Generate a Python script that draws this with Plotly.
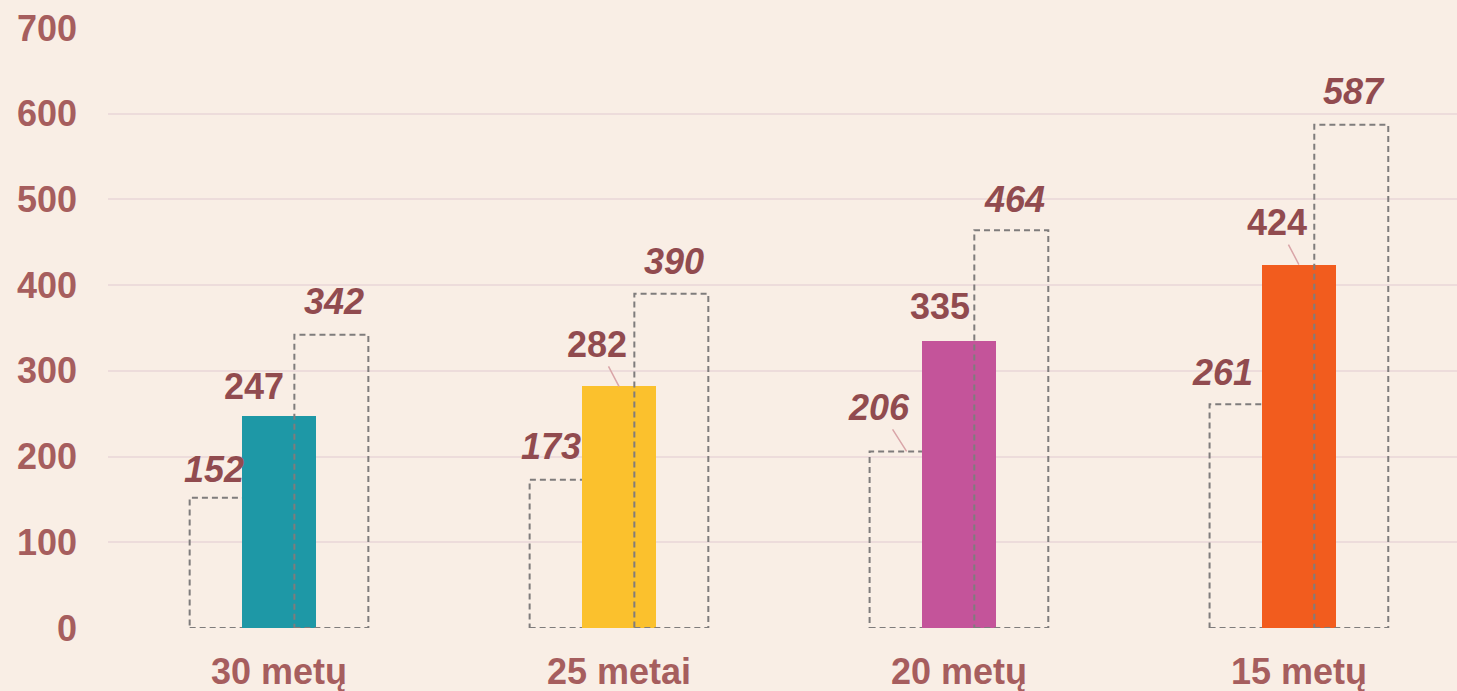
import plotly.graph_objects as go

categories = ["30 metų", "25 metai", "20 metų", "15 metų"]
low_values = [152, 173, 206, 261]
mid_values = [247, 282, 335, 424]
high_values = [342, 390, 464, 587]
y_ticks = [0, 100, 200, 300, 400, 500, 600, 700]

mid_colors = ["#1E98A6", "#FBC12D", "#C4549A", "#F25C1E"]
BG = "#F9EEE5"
TICK_COLOR = "#A65E5E"
LABEL_COLOR = "#914B4F"
GRID = "#EDDCDB"
DASH_COLOR = "#7F7C7C"
FONT = "Liberation Sans"

W = 0.2176      # bar width in category units
OFF = 0.154     # offset of dashed outlines from category center

# label pixel offsets (dx, dy) relative to bar top-center
low_off = [(-13, 28), (-16, 33), None, (-24, 32)]
mid_off = [(-25, 30), None, (-19, 34), None]
high_off = [(3, 33), (3, 32), (3, 31), (3, 33)]

fig = go.Figure()
xs = list(range(len(categories)))

fig.add_trace(go.Bar(
    x=xs, y=mid_values, width=W, marker=dict(color=mid_colors, line=dict(width=0)),
    showlegend=False, hoverinfo="skip"))

shapes = []
for i, (lo, hi) in enumerate(zip(low_values, high_values)):
    shapes.append(dict(type="rect", xref="x", yref="y", x0=i - OFF - W / 2, x1=i - OFF + W / 2,
                       y0=0, y1=lo, line=dict(color=DASH_COLOR, width=2, dash="6px,4px"),
                       fillcolor="rgba(0,0,0,0)", layer="between"))
    shapes.append(dict(type="rect", xref="x", yref="y", x0=i + OFF - W / 2, x1=i + OFF + W / 2,
                       y0=0, y1=hi, line=dict(color=DASH_COLOR, width=2, dash="6px,4px"),
                       fillcolor="rgba(0,0,0,0)", layer="above"))

annotations = []
lab_font = dict(family=FONT, size=36, color=LABEL_COLOR)
for i in xs:
    # low
    if low_off[i] is not None:
        dx, dy = low_off[i]
        annotations.append(dict(x=i - OFF, y=low_values[i], xref="x", yref="y",
                                text=f"<b><i>{low_values[i]}</i></b>", showarrow=False,
                                xshift=dx, yshift=dy, font=lab_font))
    else:
        annotations.append(dict(x=i - OFF, y=low_values[i], xref="x", yref="y",
                                text=f"<b><i>{low_values[i]}</i></b>", showarrow=True,
                                arrowhead=0, arrowwidth=1.5, arrowcolor="#D9A5A8",
                                ax=-28, ay=-44, standoff=0, font=lab_font))
    # mid
    if mid_off[i] is not None:
        dx, dy = mid_off[i]
        annotations.append(dict(x=i, y=mid_values[i], xref="x", yref="y",
                                text=f"<b>{mid_values[i]}</b>", showarrow=True, arrowwidth=0.1,
                                arrowcolor="rgba(0,0,0,0)", ax=dx, ay=-dy, standoff=0,
                                font=lab_font) if False else
                           dict(x=i, y=mid_values[i], xref="x", yref="y",
                                text=f"<b>{mid_values[i]}</b>", showarrow=False,
                                xshift=dx, yshift=dy, font=lab_font))
    else:
        annotations.append(dict(x=i, y=mid_values[i], xref="x", yref="y",
                                text=f"<b>{mid_values[i]}</b>", showarrow=True,
                                arrowhead=0, arrowwidth=1.5, arrowcolor="#D9A5A8",
                                ax=-22, ay=-42, standoff=0, font=lab_font))
    # high
    dx, dy = high_off[i]
    annotations.append(dict(x=i + OFF, y=high_values[i], xref="x", yref="y",
                            text=f"<b><i>{high_values[i]}</i></b>", showarrow=False,
                            xshift=dx, yshift=dy, font=lab_font))

fig.update_layout(
    width=1457, height=691,
    margin=dict(l=108, r=0, t=28, b=63),
    paper_bgcolor=BG, plot_bgcolor=BG,
    shapes=shapes, annotations=annotations,
    bargap=0,
    xaxis=dict(range=[-0.503, 3.465], tickmode="array", tickvals=xs, ticktext=categories,
               showgrid=False, zeroline=False, showline=False, ticks="",
               tickfont=dict(family=FONT, size=36, color=TICK_COLOR, weight="bold"),
               ticklabelstandoff=19),
    yaxis=dict(range=[0, 700], tickmode="array", tickvals=y_ticks,
               showgrid=True, gridcolor=GRID, gridwidth=2, zeroline=False, showline=False,
               ticks="", tickfont=dict(family=FONT, size=36, color=TICK_COLOR, weight="bold"),
               ticklabelstandoff=30),
)

fig.write_html("out.html", config={"displayModeBar": False},
               post_script="document.body.style.margin='0';document.body.style.overflow='hidden';document.body.style.background='" + BG + "';")
